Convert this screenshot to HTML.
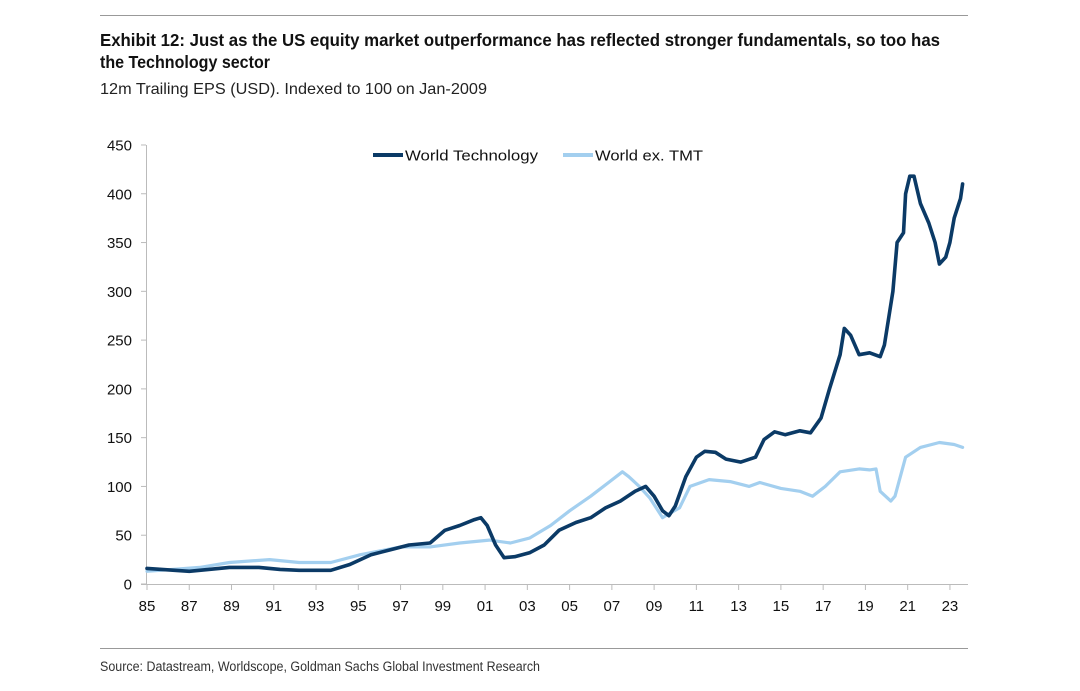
<!DOCTYPE html>
<html><head><meta charset="utf-8"><style>
body{margin:0;background:#fff;width:1080px;height:686px;overflow:hidden;font-family:"Liberation Sans",sans-serif}
</style></head><body>
<svg width="1080" height="686" xmlns="http://www.w3.org/2000/svg">
<line x1="100" y1="15.5" x2="968" y2="15.5" stroke="#999"/>
<text x="100" y="46" font-weight="bold" font-size="17.5" fill="#111" textLength="840" lengthAdjust="spacingAndGlyphs">Exhibit 12: Just as the US equity market outperformance has reflected stronger fundamentals, so too has</text>
<text x="100" y="68" font-weight="bold" font-size="17.5" fill="#111" textLength="170" lengthAdjust="spacingAndGlyphs">the Technology sector</text>
<text x="100" y="94" font-size="16" fill="#222" textLength="387" lengthAdjust="spacingAndGlyphs">12m Trailing EPS (USD). Indexed to 100 on Jan-2009</text>
<g id="axes"></g>
<g id="series"></g>
<g>
<line x1="373" y1="155" x2="403" y2="155" stroke="#0b3a66" stroke-width="4"/>
<text x="405" y="160.5" font-size="15" fill="#111" textLength="133" lengthAdjust="spacingAndGlyphs">World Technology</text>
<line x1="563" y1="155" x2="593" y2="155" stroke="#a3cfef" stroke-width="4"/>
<text x="595" y="160.5" font-size="15" fill="#111" textLength="108" lengthAdjust="spacingAndGlyphs">World ex. TMT</text>
</g>
<line x1="100" y1="648.5" x2="968" y2="648.5" stroke="#999"/>
<text x="100" y="671" font-size="13.5" fill="#333" textLength="440" lengthAdjust="spacingAndGlyphs">Source: Datastream, Worldscope, Goldman Sachs Global Investment Research</text>
</svg>
<script>
const yTicks=[0,50,100,150,200,250,300,350,400,450];
const xTickYears=[1985,1987,1989,1991,1993,1995,1997,1999,2001,2003,2005,2007,2009,2011,2013,2015,2017,2019,2021,2023];
const xTickLabels=["85","87","89","91","93","95","97","99","01","03","05","07","09","11","13","15","17","19","21","23"];
const techYears=[1985,1987.0,1988.9,1990.3,1991.3,1992.2,1993.7,1994.6,1995.6,1996.5,1997.4,1998.4,1999.1,1999.8,2000.5,2000.8,2001.1,2001.5,2001.9,2002.4,2003.1,2003.8,2004.5,2005.3,2006.0,2006.7,2007.4,2008.1,2008.6,2009.0,2009.4,2009.7,2010.0,2010.5,2011.0,2011.4,2011.9,2012.4,2013.1,2013.8,2014.2,2014.7,2015.2,2015.9,2016.4,2016.9,2017.3,2017.8,2018.0,2018.3,2018.7,2019.2,2019.7,2019.9,2020.3,2020.5,2020.8,2020.9,2021.1,2021.3,2021.6,2022.0,2022.3,2022.5,2022.8,2023.0,2023.2,2023.5,2023.6];
const techValues=[16,13,17,17,15,14,14,20,30,35,40,42,55,60,66,68,60,40,27,28,32,40,55,63,68,78,85,95,100,90,75,70,80,110,130,136,135,128,125,130,148,156,153,157,155,170,200,235,262,255,235,237,233,245,300,350,360,400,418,418,390,370,350,328,335,350,375,395,410];
const wxYears=[1985,1987.5,1988.9,1990.8,1992.2,1993.7,1995.1,1997.0,1998.4,1999.8,2001.2,2002.2,2003.1,2004.1,2005.0,2006.0,2006.9,2007.5,2007.8,2008.3,2008.8,2009.4,2009.7,2010.2,2010.7,2011.6,2012.6,2013.5,2014.0,2015.0,2015.9,2016.5,2017.1,2017.8,2018.7,2019.2,2019.5,2019.7,2020.2,2020.4,2020.9,2021.6,2022.5,2023.2,2023.6];
const wxValues=[13,17,22,25,22,22,30,38,38,42,45,42,47,60,75,90,105,115,110,100,88,68,72,78,100,107,105,100,104,98,95,90,100,115,118,117,118,95,85,90,130,140,145,143,140];
const X=y=>147+(y-1985)*21.13;
const Y=v=>584-v*0.9756;
const NS="http://www.w3.org/2000/svg";
function mk(t,a,p){const e=document.createElementNS(NS,t);for(const k in a)e.setAttribute(k,a[k]);p.appendChild(e);return e;}
const ax=document.getElementById('axes');
const yl=mk('line',{x1:146.5,y1:Y(450),x2:146.5,y2:584,stroke:'#bbb'},ax);


const xl=mk('line',{x1:141,y1:584.5,x2:968,y2:584.5,stroke:'#bbb'},ax);


yTicks.forEach(v=>{
 mk('line',{x1:141,y1:Y(v),x2:146,y2:Y(v),stroke:'#bbb'},ax);
 const t=mk('text',{x:132,y:Y(v)+5.5,'text-anchor':'end','font-size':15,fill:'#111'},ax);t.textContent=v;
 
 
});
xTickYears.forEach((yr,i)=>{
 mk('line',{x1:X(yr),y1:584,x2:X(yr),y2:590,stroke:'#bbb'},ax);
 const t=mk('text',{x:X(yr),y:611,'text-anchor':'middle','font-size':15,fill:'#111'},ax);t.textContent=xTickLabels[i];
 
 
});
const s=document.getElementById('series');
function line(xs,vs,c,w,name){
 const d=xs.map((x,i)=>(i?'L':'M')+X(x).toFixed(1)+','+Y(vs[i]).toFixed(1)).join('');
 const p=mk('path',{d:d,fill:'none',stroke:c,'stroke-width':w,'stroke-linejoin':'round','stroke-linecap':'round'},s);
 
 
}
line(wxYears,wxValues,'#a3cfef',3.2,'line-world-ex-tmt');
line(techYears,techValues,'#0b3a66',3.6,'line-world-technology');
</script>
</body></html>
